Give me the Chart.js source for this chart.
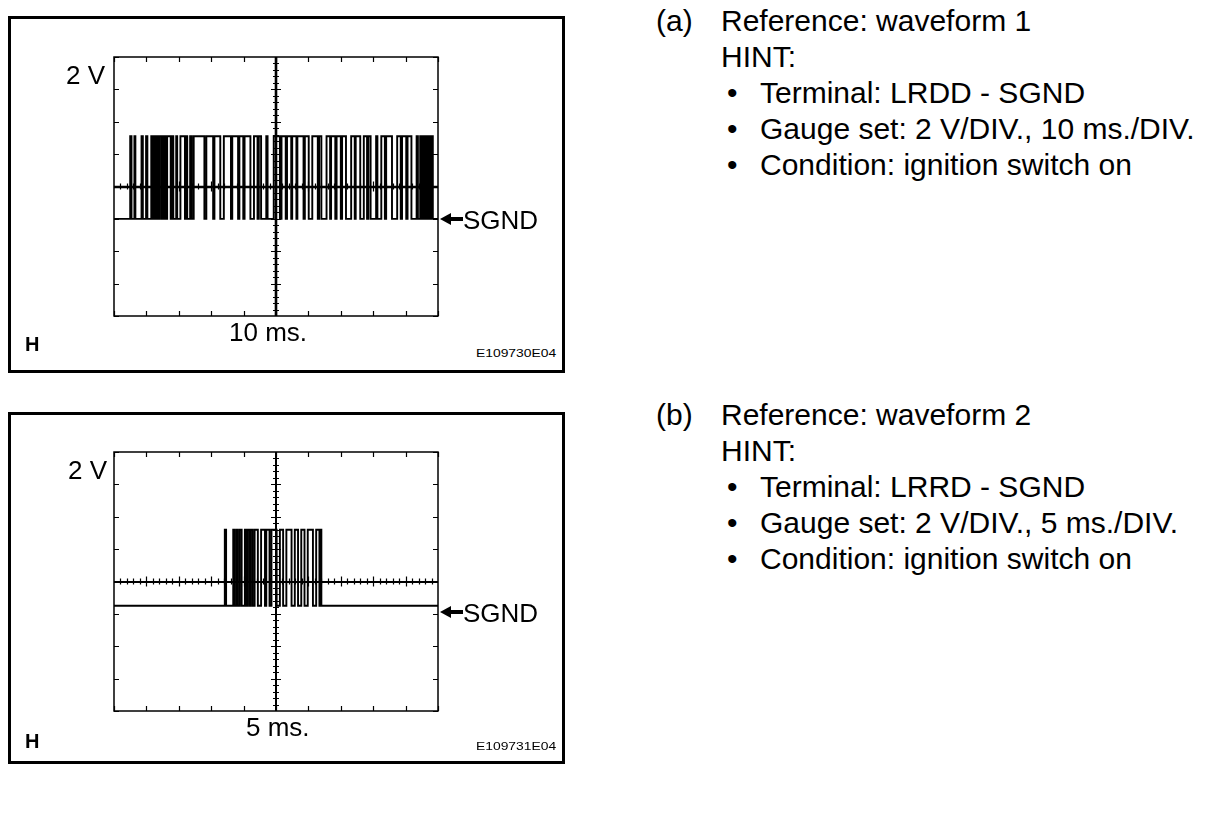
<!DOCTYPE html>
<html>
<head>
<meta charset="utf-8">
<script src="https://cdn.jsdelivr.net/npm/chart.js@4/dist/chart.umd.min.js"></script>
<style>
  html, body { margin: 0; padding: 0; background: #fff; }
  body { width: 1216px; height: 814px; position: relative; overflow: hidden;
         font-family: "Liberation Sans", Arial, Helvetica, sans-serif; color: #000; }
  .box { position: absolute; border: 3px solid #000; box-sizing: border-box; }
  .abs { position: absolute; white-space: nowrap; }
  .big { font-size: 26px; line-height: 26px; }
  .hh { font-size: 20px; line-height: 20px; font-weight: bold; }
  .code { font-size: 11px; line-height: 11px; transform: scaleX(1.26); transform-origin: 0 0; }
  canvas.scope { position: absolute; }
  .notes { position: absolute; font-size: 30px; line-height: 36px; }
  .notes .row { position: relative; height: 36px; white-space: nowrap; }
  .notes .lab { position: absolute; left: 0; }
  .notes .txt { position: absolute; left: 65px; }
  .notes .dot { position: absolute; left: 71px; }
  .notes .btxt { position: absolute; left: 104px; }
</style>
</head>
<body>

<!-- waveform 1 -->
<div class="box" style="left:8px;top:16px;width:557px;height:357px;"></div>
<canvas class="scope" id="scope1" width="344" height="280" style="left:104px;top:47px;"></canvas>
<div class="abs big" style="left:66px;top:62px;">2 V</div>
<div class="abs big" style="left:229px;top:319px;">10 ms.</div>
<div class="abs hh" style="left:25px;top:334px;">H</div>
<div class="abs code" style="left:476px;top:348px;">E109730E04</div>
<svg class="abs" style="left:440px;top:212px;" width="24" height="14">
  <polygon points="0,7 11,1 11,13" fill="#000"/><rect x="10" y="5" width="13" height="4" fill="#000"/>
</svg>
<div class="abs big" style="left:463px;top:207px;">SGND</div>

<!-- waveform 2 -->
<div class="box" style="left:8px;top:412px;width:557px;height:352px;"></div>
<canvas class="scope" id="scope2" width="344" height="280" style="left:104px;top:442px;"></canvas>
<div class="abs big" style="left:68px;top:457px;">2 V</div>
<div class="abs big" style="left:246px;top:714px;">5 ms.</div>
<div class="abs hh" style="left:25px;top:731px;">H</div>
<div class="abs code" style="left:476px;top:741px;">E109731E04</div>
<svg class="abs" style="left:440px;top:605px;" width="24" height="14">
  <polygon points="0,7 11,1 11,13" fill="#000"/><rect x="10" y="5" width="13" height="4" fill="#000"/>
</svg>
<div class="abs big" style="left:463px;top:600px;">SGND</div>

<!-- hints -->
<div class="notes" style="left:656px;top:3px;">
  <div class="row"><span class="lab">(a)</span><span class="txt">Reference: waveform 1</span></div>
  <div class="row"><span class="txt">HINT:</span></div>
  <div class="row"><span class="dot">•</span><span class="btxt">Terminal: LRDD - SGND</span></div>
  <div class="row"><span class="dot">•</span><span class="btxt">Gauge set: 2 V/DIV., 10 ms./DIV.</span></div>
  <div class="row"><span class="dot">•</span><span class="btxt">Condition: ignition switch on</span></div>
</div>
<div class="notes" style="left:656px;top:397px;">
  <div class="row"><span class="lab">(b)</span><span class="txt">Reference: waveform 2</span></div>
  <div class="row"><span class="txt">HINT:</span></div>
  <div class="row"><span class="dot">•</span><span class="btxt">Terminal: LRRD - SGND</span></div>
  <div class="row"><span class="dot">•</span><span class="btxt">Gauge set: 2 V/DIV., 5 ms./DIV.</span></div>
  <div class="row"><span class="dot">•</span><span class="btxt">Condition: ignition switch on</span></div>
</div>

<script>
/* ---------- data (volts above SGND, time in ms) ---------- */
// screen: 8 vertical div x 2 V, 10 horizontal div
const voltTicks = [-6, -4, -2, 0, 2, 4, 6, 8, 10];
const time1Ticks = [0, 10, 20, 30, 40, 50, 60, 70, 80, 90, 100];
const time2Ticks = [0, 5, 10, 15, 20, 25, 30, 35, 40, 45, 50];

// waveform 1 : LRDD - SGND, 10 ms/div  (each point holds its level until the next)
const wave1Time = [0, 5.0, 5.4, 6.3, 6.6, 8.5, 8.9, 9.9, 10.3,
  11.5, 11.9, 12.2, 12.5, 12.7, 13.2, 13.5, 13.7, 14.0, 14.6, 14.9, 15.2, 15.5, 15.9,
  16.4, 17.5, 18.0, 18.3, 19.2, 19.5, 20.5, 21.9, 22.3, 22.6, 23.5, 24.0, 24.6, 27.9,
  28.5, 30.6, 31.0, 32.8, 33.9, 36.1, 36.5, 38.3, 38.7, 39.9, 40.3, 42.1, 43.2, 44.3,
  44.7, 45.4, 47.0, 47.4, 49.3, 51.2, 51.7, 53.0, 53.4, 54.7, 55.0, 56.3, 56.6, 58.5,
  58.9, 60.1, 61.2, 62.9, 63.3, 64.0, 65.6, 66.7, 67.0, 68.3, 68.7, 70.0, 70.4, 71.6,
  73.2, 74.3, 74.6, 76.0, 77.1, 78.1, 78.5, 79.2, 80.9, 81.3, 82.5, 83.6, 84.0, 85.8,
  87.4, 88.5, 88.9, 90.2, 90.6, 91.8, 93.4, 93.8, 94.5, 94.8, 95.1, 95.4, 95.7, 96.0,
  96.3, 96.6, 96.9, 97.2, 97.5, 97.8, 98.1, 98.4, 100];
const wave1Volt = [0, 5.1, 0, 5.1, 0, 5.1, 0, 5.1, 0,
  5.1, 0, 5.1, 0, 5.1, 0, 5.1, 0, 5.1, 0, 5.1, 0, 5.1, 0,
  5.1, 0, 5.1, 0, 5.1, 0, 5.1, 0, 5.1, 0, 5.1, 0, 5.1, 0,
  5.1, 0, 5.1, 0, 5.1, 0, 5.1, 0, 5.1, 0, 5.1, 0, 5.1, 0,
  5.1, 0, 5.1, 0, 5.1, 0, 5.1, 0, 5.1, 0, 5.1, 0, 5.1, 0,
  5.1, 0, 5.1, 0, 5.1, 0, 5.1, 0, 5.1, 0, 5.1, 0, 5.1, 0,
  5.1, 0, 5.1, 0, 5.1, 0, 5.1, 0, 5.1, 0, 5.1, 0, 5.1, 0,
  5.1, 0, 5.1, 0, 5.1, 0, 5.1, 0, 5.1, 0, 5.1, 0, 5.1, 0,
  5.1, 0, 5.1, 0, 5.1, 0, 5.1, 0, 0];

// waveform 2 : LRRD - SGND, 5 ms/div
const wave2Time = [0, 17.1, 17.3, 18.4, 18.6, 18.9, 19.1, 19.4, 19.7, 20.2, 20.4, 20.6,
  20.9, 21.1, 21.4, 21.7, 22.2, 22.7, 23.3, 23.5, 24.0, 24.3, 25.1, 25.6, 26.1, 26.6,
  27.4, 27.9, 28.4, 28.9, 29.4, 29.9, 30.7, 31.2, 31.7, 31.8, 32.0, 50];
const wave2Volt = [0.5, 5.2, 0.5, 5.2, 0.5, 5.2, 0.5, 5.2, 0.5, 5.2, 0.5, 5.2,
  0.5, 5.2, 0.5, 5.2, 0.5, 5.2, 0.5, 5.2, 0.5, 5.2, 0.5, 5.2, 0.5, 5.2,
  0.5, 5.2, 0.5, 5.2, 0.5, 5.2, 0.5, 5.2, 0.5, 5.2, 0.5, 0.5];

/* ---------- graticule: border, edge ticks, centre cross with sub-ticks ---------- */
const graticule = {
  id: "graticule",
  afterDatasetsDraw(chart) {
    const { ctx, chartArea: a, scales: { x, y } } = chart;
    const opt = chart.options.plugins.graticule;
    const xt = opt.xTicks, yt = opt.yTicks;
    const cx = x.getPixelForValue(xt[5]), cy = y.getPixelForValue(yt[4]);
    ctx.save();
    ctx.strokeStyle = "#000";
    ctx.lineWidth = 1.5;
    ctx.strokeRect(a.left, a.top, a.right - a.left, a.bottom - a.top);
    ctx.lineWidth = 1.2;
    ctx.beginPath();
    xt.forEach(v => {
      const px = Math.round(x.getPixelForValue(v)) + 0.5;
      ctx.moveTo(px, a.top); ctx.lineTo(px, a.top + 5);
      ctx.moveTo(px, a.bottom); ctx.lineTo(px, a.bottom - 5);
    });
    yt.forEach(v => {
      const py = Math.round(y.getPixelForValue(v)) + 0.5;
      ctx.moveTo(a.left, py); ctx.lineTo(a.left + 5, py);
      ctx.moveTo(a.right, py); ctx.lineTo(a.right - 5, py);
    });
    // sub-ticks (1/5 div) on centre lines
    const dx = (x.getPixelForValue(xt[1]) - x.getPixelForValue(xt[0])) / 5;
    const dy = (y.getPixelForValue(yt[0]) - y.getPixelForValue(yt[1])) / 5;
    for (let i = 1; i < 50; i++) {
      const px = Math.round(a.left + i * dx) + 0.5, len = i % 5 === 0 ? 5 : 3;
      ctx.moveTo(px, cy - len); ctx.lineTo(px, cy + len);
    }
    for (let i = 1; i < 40; i++) {
      const py = Math.round(a.top + i * dy) + 0.5, len = i % 5 === 0 ? 5 : 3;
      ctx.moveTo(cx - len, py); ctx.lineTo(cx + len, py);
    }
    ctx.stroke();
    ctx.lineWidth = opt.crossWidth;
    ctx.beginPath();
    ctx.moveTo(a.left, Math.round(cy)); ctx.lineTo(a.right, Math.round(cy));
    ctx.moveTo(Math.round(cx), a.top); ctx.lineTo(Math.round(cx), a.bottom);
    ctx.stroke();
    ctx.restore();
  }
};

function scope(id, times, volts, xTicks, crossWidth) {
  return new Chart(document.getElementById(id), {
    type: "line",
    data: {
      datasets: [{
        data: times.map((t, i) => ({ x: t, y: volts[i] })),
        borderColor: "#000", borderWidth: 1.9, pointRadius: 0,
        stepped: true, fill: false,
      }],
    },
    options: {
      responsive: false, animation: false, events: [],
      layout: { padding: { left: 10, right: 10, top: 10, bottom: 11 } },
      scales: {
        x: { type: "linear", display: false, min: xTicks[0], max: xTicks[xTicks.length - 1] },
        y: { type: "linear", display: false, min: voltTicks[0], max: voltTicks[voltTicks.length - 1] },
      },
      plugins: {
        legend: { display: false }, tooltip: { enabled: false },
        graticule: { xTicks, yTicks: voltTicks, crossWidth },
      },
    },
    plugins: [graticule],
  });
}

scope("scope1", wave1Time, wave1Volt, time1Ticks, 2.6);
scope("scope2", wave2Time, wave2Volt, time2Ticks, 2);
</script>
</body>
</html>
